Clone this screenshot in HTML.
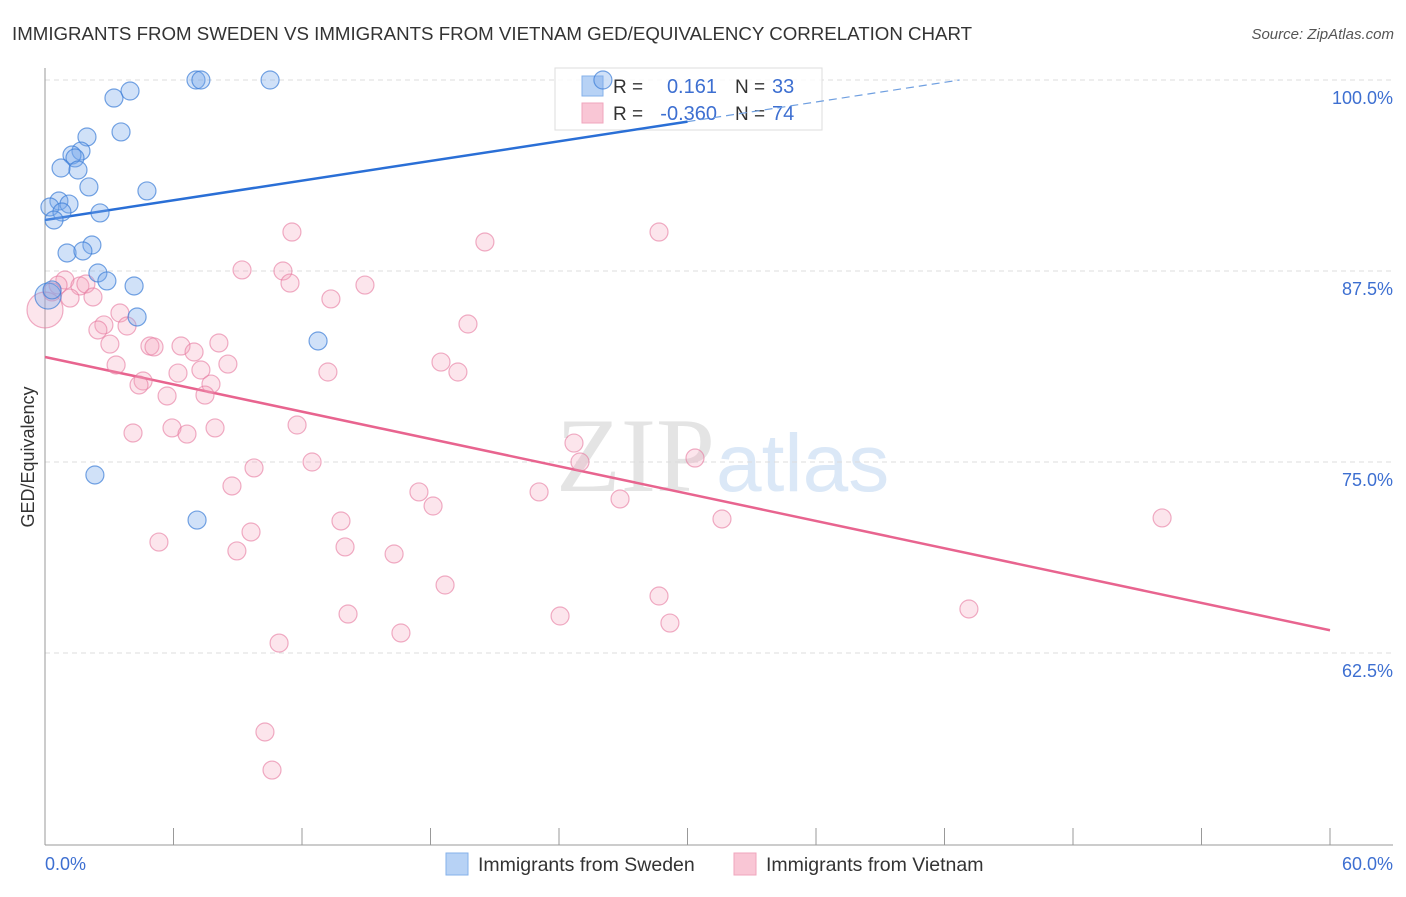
<!DOCTYPE html>
<html><head><meta charset="utf-8"><style>
body{margin:0;background:#fff;}
svg text{font-family:"Liberation Sans",sans-serif;}
</style></head><body>
<svg id="chart" width="1406" height="892" xmlns="http://www.w3.org/2000/svg">
<text x="12" y="40" font-size="18.7" fill="#333">IMMIGRANTS FROM SWEDEN VS IMMIGRANTS FROM VIETNAM GED/EQUIVALENCY CORRELATION CHART</text>
<text x="1394" y="39" font-size="15" fill="#555" font-style="italic" text-anchor="end">Source: ZipAtlas.com</text>
<g>
<text x="556" y="491" font-size="106" fill="#e4e4e4" style="font-family:'Liberation Serif',serif">ZIP</text>
<text x="716" y="491" font-size="82" fill="#dbe8f7">atlas</text>
</g>
<g id="grid"></g>
<g id="axes"></g>
<g>
<rect x="555" y="68" width="267" height="62" fill="#fff" fill-opacity="0.85" stroke="#ddd"/>
<rect x="582" y="76" width="21" height="20" fill="#b7d2f5" stroke="#86b1ea"/>
<rect x="582" y="103" width="21" height="20" fill="#f9c6d5" stroke="#f0a6bd"/>
<text x="613" y="93" font-size="19" fill="#333">R =</text>
<text x="717" y="93" font-size="20" fill="#3d6fd1" text-anchor="end">0.161</text>
<text x="735" y="93" font-size="19" fill="#333">N =</text>
<text x="772" y="93" font-size="20" fill="#3d6fd1">33</text>
<text x="613" y="120" font-size="19" fill="#333">R =</text>
<text x="717" y="120" font-size="20" fill="#3d6fd1" text-anchor="end">-0.360</text>
<text x="735" y="120" font-size="19" fill="#333">N =</text>
<text x="772" y="120" font-size="20" fill="#3d6fd1">74</text>
</g>
<g id="lines"></g>
<g id="pts"></g>
<text transform="translate(34,457) rotate(-90)" font-size="18" fill="#333" text-anchor="middle">GED/Equivalency</text>
<g>
<rect x="446" y="853" width="22" height="22" fill="#b7d2f5" stroke="#86b1ea"/>
<text x="478" y="871" font-size="19.5" fill="#333">Immigrants from Sweden</text>
<rect x="734" y="853" width="22" height="22" fill="#f9c6d5" stroke="#f0a6bd"/>
<text x="766" y="871" font-size="19.5" fill="#333">Immigrants from Vietnam</text>
</g>
</svg>
<script>
const yTicks=[100,87.5,75,62.5];
const yTickLabels=["100.0%","87.5%","75.0%","62.5%"];
const xTicks=[0,6,12,18,24,30,36,42,48,54,60];
const swedenX=[7.05,7.28,10.51,3.22,3.97,3.55,1.96,1.68,1.26,1.40,0.75,1.54,2.05,4.76,0.65,1.12,0.23,0.79,2.57,0.42,2.19,1.03,1.77,2.47,2.89,4.16,4.30,12.75,2.33,7.10,0.14,26.05,0.33];
const swedenY=[100,100,100,98.82,99.28,96.60,96.27,95.35,95.09,94.90,94.24,94.11,93.00,92.74,92.08,91.88,91.69,91.36,91.30,90.84,89.20,88.68,88.81,87.37,86.85,86.52,84.49,82.92,74.15,71.20,85.86,100,86.26];
const swedenR=[9,9,9,9,9,9,9,9,9,9,9,9,9,9,9,9,9,9,9,9,9,9,9,9,9,9,9,9,9,9,13,9,9];
const vietnamX=[11.53,20.54,28.67,9.20,11.11,11.44,14.94,13.35,0.93,0.61,1.63,1.91,2.24,1.17,0.33,0.0,3.50,2.75,3.83,2.47,3.03,19.75,4.90,5.09,6.35,6.96,8.12,3.32,8.54,18.49,19.28,13.21,6.21,7.28,7.75,4.58,4.39,5.70,7.47,5.93,6.63,7.94,4.11,11.77,24.70,24.98,30.35,12.47,9.76,8.73,17.46,18.12,23.07,26.85,13.82,31.61,52.16,9.62,5.32,8.96,14.01,16.30,18.68,28.67,14.15,24.05,29.18,43.14,16.62,10.93,10.27,10.60];
const vietnamY=[90.05,89.40,90.05,87.57,87.50,86.71,86.58,85.67,86.91,86.58,86.52,86.65,85.80,85.73,86.13,84.95,84.75,83.97,83.90,83.64,82.72,84.03,82.59,82.53,82.59,82.20,82.79,81.35,81.41,81.54,80.89,80.89,80.82,81.02,80.10,80.30,80.04,79.32,79.38,77.23,76.83,77.23,76.90,77.42,76.24,75.00,75.26,75.00,74.61,73.43,73.04,72.12,73.04,72.58,71.14,71.27,71.34,70.42,69.76,69.18,69.44,68.98,66.95,66.23,65.05,64.92,64.46,65.38,63.81,63.15,57.33,54.84];
const vietnamR=vietnamX.map((v,i)=>i===15?18:9);
const swedenTrend=[90.84,0.2145];
const vietnamTrend=[81.87,-0.298];
const NS="http://www.w3.org/2000/svg";
const X=v=>45+v*(1285/60);
const Y=v=>80+(100-v)*15.28;
function mk(t,a,p){const e=document.createElementNS(NS,t);for(const k in a)e.setAttribute(k,a[k]);p.appendChild(e);return e;}
const grid=document.getElementById('grid'),axes=document.getElementById('axes'),lines=document.getElementById('lines'),pts=document.getElementById('pts');
yTicks.forEach((t,i)=>{
 const l=mk('line',{x1:45,x2:1393,y1:Y(t),y2:Y(t),stroke:'#ddd','stroke-dasharray':'5,4'},grid);
 
 
 const tx=mk('text',{x:1393,y:Y(t)+24,'font-size':18,fill:'#3d6fd1','text-anchor':'end'},grid);
 tx.textContent=yTickLabels[i];
 
 
});
mk('line',{x1:45,x2:45,y1:68,y2:845,stroke:'#999'},axes);
mk('line',{x1:45,x2:1393,y1:845,y2:845,stroke:'#999'},axes);
xTicks.forEach(t=>{
 const l=mk('line',{x1:X(t),x2:X(t),y1:828,y2:845,stroke:'#999'},axes);
 
 
});
const xl0=mk('text',{x:45,y:870,'font-size':18,fill:'#3d6fd1'},axes);xl0.textContent='0.0%';


const xl1=mk('text',{x:1393,y:870,'font-size':18,fill:'#3d6fd1','text-anchor':'end'},axes);xl1.textContent='60.0%';


function dots(xs,ys,rs,fill,stroke,name){
 xs.forEach((x,i)=>{
  const c=mk('circle',{cx:X(x),cy:Y(ys[i]),r:rs[i],fill:fill,stroke:stroke,'stroke-width':1.2},pts);
  
  
 });
}
dots(vietnamX,vietnamY,vietnamR,'rgba(244,160,188,0.28)','rgba(230,120,158,0.6)','vietnam-point');
dots(swedenX,swedenY,swedenR,'rgba(120,170,235,0.35)','rgba(60,125,215,0.7)','sweden-point');
const b1=mk('line',{x1:X(0),y1:Y(swedenTrend[0]),x2:X(30),y2:Y(swedenTrend[0]+swedenTrend[1]*30),stroke:'#2a6fd6','stroke-width':2.5},lines);


const xe=(100-swedenTrend[0])/swedenTrend[1];
const b2=mk('line',{x1:X(30),y1:Y(swedenTrend[0]+swedenTrend[1]*30),x2:X(xe),y2:Y(100),stroke:'#6f9fe0','stroke-width':1.2,'stroke-dasharray':'8,5'},lines);


const p1=mk('line',{x1:X(0),y1:Y(vietnamTrend[0]),x2:X(60),y2:Y(vietnamTrend[0]+vietnamTrend[1]*60),stroke:'#e8648f','stroke-width':2.5},lines);


</script>
</body></html>
